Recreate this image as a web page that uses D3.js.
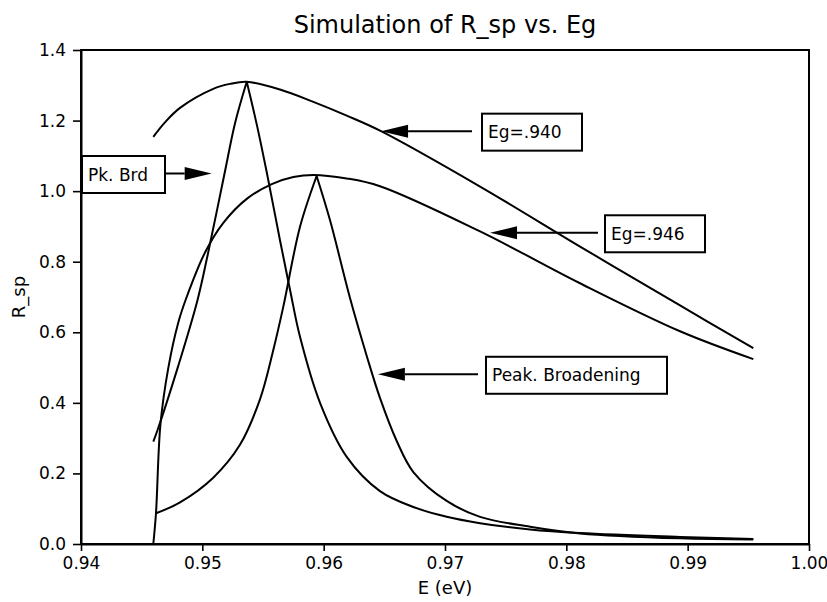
<!DOCTYPE html>
<html>
<head>
<meta charset="utf-8">
<script src="https://cdn.jsdelivr.net/npm/d3@7/dist/d3.min.js"></script>
<style>
  html, body { margin: 0; padding: 0; background: #fff; }
  svg text { font-family: "DejaVu Sans", "Liberation Sans", sans-serif; fill: #000; }
</style>
</head>
<body>
<svg id="chart" width="827" height="602"></svg>
<script>
// Axis ticks
const xTicks = [0.94, 0.95, 0.96, 0.97, 0.98, 0.99, 1.00];
const yTicks = [0.0, 0.2, 0.4, 0.6, 0.8, 1.0, 1.2, 1.4];

// Broad spectra (no peak broadening), band gap 0.940 eV and 0.946 eV
const broadE940 = [0.94596, 0.94692, 0.94816, 0.95090, 0.95228, 0.95366, 0.95640, 0.95915, 0.96190, 0.96473, 0.97289, 0.98113, 0.98937, 0.99541];
const broadR940 = [1.154, 1.195, 1.236, 1.290, 1.304, 1.310, 1.288, 1.253, 1.214, 1.170, 1.013, 0.843, 0.676, 0.555];

const broadE946 = [0.94596, 0.94618, 0.94655, 0.94720, 0.94802, 0.94871, 0.95022, 0.95173, 0.95366, 0.95572, 0.95750, 0.95915, 0.96190, 0.96464, 0.97289, 0.98113, 0.98937, 0.99541];
const broadR946 = [0.000, 0.087, 0.340, 0.500, 0.628, 0.700, 0.826, 0.910, 0.978, 1.020, 1.040, 1.046, 1.036, 1.014, 0.886, 0.739, 0.603, 0.524];

// Peaked spectra (with peak broadening)
const peakE940 = [0.94596, 0.94631, 0.94799, 0.94960, 0.95047, 0.95183, 0.95269, 0.95366, 0.95448, 0.95530, 0.95640, 0.95723, 0.95805, 0.95970, 0.96190, 0.96464, 0.96739, 0.97014, 0.97289, 0.97701, 0.98113, 0.98937, 0.99541];
const peakR940 = [0.290, 0.323, 0.502, 0.691, 0.824, 1.050, 1.192, 1.310, 1.190, 1.055, 0.861, 0.720, 0.587, 0.400, 0.247, 0.150, 0.105, 0.077, 0.059, 0.041, 0.031, 0.020, 0.014];

const peakE946 = [0.94618, 0.94816, 0.95090, 0.95310, 0.95475, 0.95585, 0.95667, 0.95805, 0.95942, 0.96052, 0.96217, 0.96355, 0.96464, 0.96602, 0.96739, 0.97014, 0.97289, 0.97701, 0.98113, 0.98937, 0.99541];
const peakR946 = [0.087, 0.118, 0.188, 0.281, 0.410, 0.550, 0.672, 0.899, 1.043, 0.918, 0.697, 0.533, 0.414, 0.292, 0.204, 0.122, 0.077, 0.049, 0.030, 0.016, 0.013];

// Callout labels and the (E, R_sp) point each arrow points at
const calloutText = ["Pk. Brd", "Eg=.940", "Eg=.946", "Peak. Broadening"];
const calloutE    = [0.95077, 0.96473, 0.97371, 0.96447];
const calloutR    = [1.050, 1.170, 0.882, 0.481];

const titleText = "Simulation of R_sp vs. Eg";
const xTitle = "E (eV)";
const yTitle = "R_sp";

// ---- layout ----
const plot = { left: 81, right: 809, top: 50, bottom: 544 };

const svg = d3.select("#chart");

const x = d3.scaleLinear().domain([0.94, 1.00]).range([plot.left, plot.right]);
const y = d3.scaleLinear().domain([0, 1.4]).range([plot.bottom, plot.top]);

// frame
svg.append("rect")
  .attr("x", plot.left).attr("y", plot.top)
  .attr("width", plot.right - plot.left).attr("height", plot.bottom - plot.top)
  .attr("fill", "none").attr("stroke", "#000").attr("stroke-width", 2);

// axes
const gx = svg.append("g")
  .attr("transform", `translate(0,${plot.bottom})`)
  .call(d3.axisBottom(x).tickValues(xTicks).tickFormat(d3.format(".2f"))
    .tickSize(7).tickSizeOuter(0).tickPadding(6));
const gy = svg.append("g")
  .attr("transform", `translate(${plot.left},0)`)
  .call(d3.axisLeft(y).tickValues(yTicks).tickFormat(d3.format(".1f"))
    .tickSize(8).tickSizeOuter(0).tickPadding(7));

[gx, gy].forEach(g => {
  g.select(".domain").attr("stroke", "#000").attr("stroke-width", 2);
  g.selectAll(".tick line").attr("stroke", "#000").attr("stroke-width", 1.6);
  g.selectAll(".tick text").attr("font-size", 17)
    .style("font-family", '"DejaVu Sans", sans-serif').attr("fill", "#000");
});

// titles
svg.append("text").attr("x", (plot.left + plot.right) / 2).attr("y", 33)
  .attr("text-anchor", "middle").attr("font-size", 24).text(titleText);
svg.append("text").attr("x", (plot.left + plot.right) / 2).attr("y", 594)
  .attr("text-anchor", "middle").attr("font-size", 18).text(xTitle);
svg.append("text")
  .attr("transform", `translate(25,${(plot.top + plot.bottom) / 2}) rotate(-90)`)
  .attr("text-anchor", "middle").attr("font-size", 18).text(yTitle);

// curves
const line = d3.line().x(d => x(d[0])).y(d => y(d[1])).curve(d3.curveCatmullRom.alpha(0.5));
const pairs = (E, R) => E.map((e, i) => [e, R[i]]);

function drawSmooth(E, R) {
  svg.append("path").attr("d", line(pairs(E, R)))
    .attr("fill", "none").attr("stroke", "#000").attr("stroke-width", 2)
    .attr("stroke-linejoin", "round");
}
// pointed peaks: each flank is smoothed separately so the top stays sharp
function drawCusp(E, R) {
  const pts = pairs(E, R);
  const k = d3.maxIndex(pts, d => d[1]);
  svg.append("path").attr("d", line(pts.slice(0, k + 1)) + line(pts.slice(k)))
    .attr("fill", "none").attr("stroke", "#000").attr("stroke-width", 2)
    .attr("stroke-linejoin", "miter");
}

drawSmooth(broadE940, broadR940);
drawSmooth(broadE946, broadR946);
drawCusp(peakE940, peakR940);
drawCusp(peakE946, peakR946);

// callouts: box position (left edge, width), which side the arrow leaves from, gap to the box
const boxLayout = [
  { left: 82,  width: 83,  side: "right", gap: 0 },
  { left: 482, width: 100, side: "left",  gap: 10 },
  { left: 605, width: 100, side: "left",  gap: 7 },
  { left: 486, width: 181, side: "left",  gap: 8 }
];
const boxH = 37, headLen = 27, headHalf = 6.5;

calloutText.forEach((t, i) => {
  const b = boxLayout[i];
  const tx = x(calloutE[i]), ty = y(calloutR[i]);
  const g = svg.append("g");
  g.append("rect").attr("x", b.left).attr("y", ty - boxH / 2 + 1)
    .attr("width", b.width).attr("height", boxH)
    .attr("fill", "#fff").attr("stroke", "#000").attr("stroke-width", 2);
  g.append("text").attr("x", b.left + 6).attr("y", ty + 7)
    .attr("font-size", 17).text(t);
  const start = b.side === "right" ? b.left + b.width + b.gap : b.left - b.gap;
  const dir = tx > start ? 1 : -1;
  const base = tx - dir * headLen;
  g.append("line").attr("x1", start).attr("y1", ty).attr("x2", base).attr("y2", ty)
    .attr("stroke", "#000").attr("stroke-width", 2);
  g.append("path")
    .attr("d", `M${tx},${ty}L${base},${ty - headHalf}L${base},${ty + headHalf}Z`)
    .attr("fill", "#000");
});
</script>
</body>
</html>
